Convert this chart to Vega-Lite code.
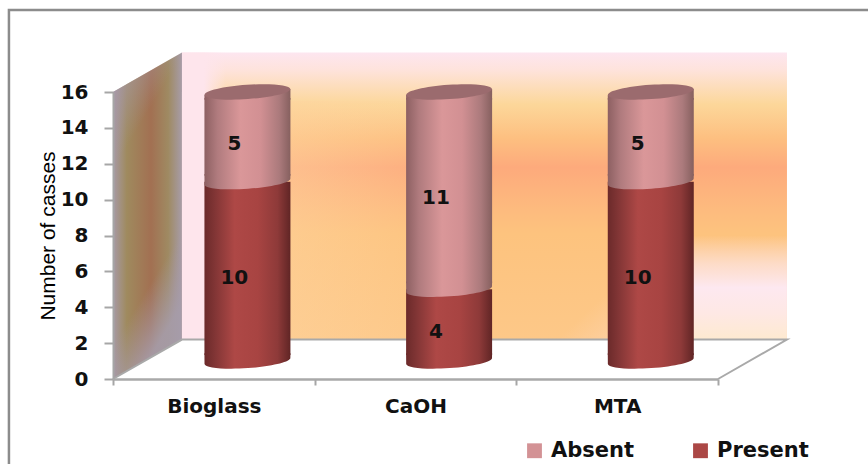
{
  "$schema": "https://vega.github.io/schema/vega-lite/v6.json",
  "width": 605,
  "height": 287,
  "autosize": {"type": "none"},
  "padding": {"left": 113, "top": 92, "right": 150, "bottom": 85},
  "background": "white",
  "config": {"view": {"stroke": null}, "font": "DejaVu Sans", "axisY": {"tickCount": 8, "labelOverlap": false}},
  "datasets": {
    "cases": [
      {"group": "Bioglass", "status": "Present", "cases": 10},
      {"group": "Bioglass", "status": "Absent", "cases": 5},
      {"group": "CaOH", "status": "Present", "cases": 4},
      {"group": "CaOH", "status": "Absent", "cases": 11},
      {"group": "MTA", "status": "Present", "cases": 10},
      {"group": "MTA", "status": "Absent", "cases": 5}
    ],
    "sideWall": [
      {"depth": 0, "low": 0, "high": 16},
      {"depth": 0.342, "low": 2.2, "high": 18.2}
    ],
    "backWall": [{"a": 0.342, "b": 3.342, "low": 2.2, "high": 18.2}],
    "floorEdge": [
      {"n": 1, "px": 0, "py": 0},
      {"n": 2, "px": 0.342, "py": 2.2},
      {"n": 3, "px": 3.342, "py": 2.2},
      {"n": 4, "px": 3, "py": 0}
    ],
    "frame": [
      {"n": 1, "px": -0.516, "py": -6},
      {"n": 2, "px": -0.516, "py": 20.57},
      {"n": 3, "px": 3.9, "py": 20.57}
    ]
  },
  "resolve": {"scale": {"x": "independent"}, "axis": {"x": "independent"}},
  "layer": [
    {
      "layer": [
        {
          "data": {"name": "frame"},
          "mark": {"type": "line", "color": "#8c8c8c", "strokeWidth": 2.5, "strokeJoin": "miter"},
          "encoding": {
            "x": {"field": "px", "type": "quantitative", "scale": {"domain": [0, 3]}, "axis": null},
            "y": {
              "field": "py", "type": "quantitative",
              "scale": {"domain": [0, 16]},
              "axis": {
                "grid": false,
                "zindex": 1,
                "title": "Number of  casses",
                "titleFont": "Liberation Sans",
                "titleFontSize": 21,
                "titleFontWeight": "normal",
                "titleColor": "#000000",
                "titleX": -55,
                "labelFont": "DejaVu Sans",
                "labelFontSize": 20,
                "labelFontWeight": "bold",
                "labelColor": "#111111",
                "labelPadding": 16,
                "tickSize": 9,
                "tickWidth": 2,
                "tickColor": "#a6a6a6",
                "domainColor": "#a6a6a6",
                "domainWidth": 2
              }
            },
            "order": {"field": "n"}
          }
        },
        {
          "data": {"name": "sideWall"},
          "mark": {
            "type": "area",
            "color": {
              "gradient": "linear", "x1": 0, "y1": 0, "x2": 1, "y2": 0,
              "stops": [
                {"offset": 0, "color": "#a79aa6"},
                {"offset": 0.2, "color": "#9f8a5e"},
                {"offset": 0.55, "color": "#a27052"},
                {"offset": 0.8, "color": "#9f8a62"},
                {"offset": 1, "color": "#a79ca8"}
              ]
            }
          },
          "encoding": {
            "x": {"field": "depth", "type": "quantitative", "scale": {"domain": [0, 3]}, "axis": null},
            "y": {"field": "low", "type": "quantitative", "scale": {"domain": [0, 16]}},
            "y2": {"field": "high"}
          }
        },
        {
          "data": {"name": "sideWall"},
          "mark": {
            "type": "area",
            "color": {
              "gradient": "linear", "x1": 0, "y1": 0, "x2": 0.35, "y2": 1,
              "stops": [
                {"offset": 0, "color": "rgba(166,152,170,1)"},
                {"offset": 0.32, "color": "rgba(166,152,170,0)"},
                {"offset": 0.8, "color": "rgba(166,152,170,0)"},
                {"offset": 1, "color": "rgba(166,156,170,0.9)"}
              ]
            }
          },
          "encoding": {
            "x": {"field": "depth", "type": "quantitative", "scale": {"domain": [0, 3]}, "axis": null},
            "y": {"field": "low", "type": "quantitative", "scale": {"domain": [0, 16]}},
            "y2": {"field": "high"}
          }
        },
        {
          "data": {"name": "backWall"},
          "mark": {
            "type": "rect",
            "color": {
              "gradient": "linear", "x1": 0, "y1": 0, "x2": 0, "y2": 1,
              "stops": [
                {"offset": 0, "color": "#fde6f0"},
                {"offset": 0.06, "color": "#fee3dc"},
                {"offset": 0.18, "color": "#fcd79a"},
                {"offset": 0.3, "color": "#fdbf80"},
                {"offset": 0.4, "color": "#fdaa7c"},
                {"offset": 0.55, "color": "#fdbb7e"},
                {"offset": 0.63, "color": "#fdc37e"},
                {"offset": 1, "color": "#fdc888"}
              ]
            }
          },
          "encoding": {
            "x": {"field": "a", "type": "quantitative", "scale": {"domain": [0, 3]}, "axis": null},
            "x2": {"field": "b"},
            "y": {"field": "low", "type": "quantitative", "scale": {"domain": [0, 16]}},
            "y2": {"field": "high"}
          }
        },
        {
          "data": {"values": [{"a": 0.342, "b": 1.7, "low": 2.2, "high": 15.5}]},
          "mark": {
            "type": "rect",
            "color": {
              "gradient": "linear", "x1": 0, "y1": 0, "x2": 1, "y2": 0,
              "stops": [
                {"offset": 0, "color": "rgba(254,212,160,0.8)"},
                {"offset": 1, "color": "rgba(254,212,160,0)"}
              ]
            }
          },
          "encoding": {
            "x": {"field": "a", "type": "quantitative", "scale": {"domain": [0, 3]}, "axis": null},
            "x2": {"field": "b"},
            "y": {"field": "low", "type": "quantitative", "scale": {"domain": [0, 16]}},
            "y2": {"field": "high"}
          }
        },
        {
          "data": {"values": [{"a": 0.342, "b": 0.56, "low": 2.2, "high": 18.2}]},
          "mark": {
            "type": "rect",
            "color": {
              "gradient": "linear", "x1": 0, "y1": 0, "x2": 1, "y2": 0,
              "stops": [
                {"offset": 0, "color": "rgba(254,229,236,1)"},
                {"offset": 0.5, "color": "rgba(254,229,236,1)"},
                {"offset": 1, "color": "rgba(254,229,236,0)"}
              ]
            }
          },
          "encoding": {
            "x": {"field": "a", "type": "quantitative", "scale": {"domain": [0, 3]}, "axis": null},
            "x2": {"field": "b"},
            "y": {"field": "low", "type": "quantitative", "scale": {"domain": [0, 16]}},
            "y2": {"field": "high"}
          }
        },
        {
          "data": {"values": [{"a": 2.66, "b": 3.342, "low": 2.2, "high": 8}]},
          "mark": {
            "type": "rect",
            "color": {
              "gradient": "linear", "x1": 0, "y1": 0, "x2": 0, "y2": 1,
              "stops": [
                {"offset": 0, "color": "rgba(253,232,240,0)"},
                {"offset": 0.28, "color": "rgba(253,228,225,0.75)"},
                {"offset": 0.5, "color": "rgba(253,232,240,1)"},
                {"offset": 0.75, "color": "rgba(254,232,228,1)"},
                {"offset": 1, "color": "rgba(254,234,208,1)"}
              ]
            }
          },
          "encoding": {
            "x": {"field": "a", "type": "quantitative", "scale": {"domain": [0, 3]}, "axis": null},
            "x2": {"field": "b"},
            "y": {"field": "low", "type": "quantitative", "scale": {"domain": [0, 16]}},
            "y2": {"field": "high"}
          }
        },
        {
          "data": {"values": [{"a": 2.2, "b": 2.66, "low": 2.2, "high": 7}]},
          "mark": {
            "type": "rect",
            "color": {
              "gradient": "linear", "x1": 0, "y1": 0, "x2": 1, "y2": 1,
              "stops": [
                {"offset": 0.5, "color": "rgba(253,225,220,0)"},
                {"offset": 1, "color": "rgba(253,225,220,0.45)"}
              ]
            }
          },
          "encoding": {
            "x": {"field": "a", "type": "quantitative", "scale": {"domain": [0, 3]}, "axis": null},
            "x2": {"field": "b"},
            "y": {"field": "low", "type": "quantitative", "scale": {"domain": [0, 16]}},
            "y2": {"field": "high"}
          }
        },
        {
          "data": {"name": "floorEdge"},
          "mark": {"type": "line", "color": "#a9a9a9", "strokeWidth": 2, "strokeJoin": "miter"},
          "encoding": {
            "x": {"field": "px", "type": "quantitative", "scale": {"domain": [0, 3]}, "axis": null},
            "y": {"field": "py", "type": "quantitative", "scale": {"domain": [0, 16]}},
            "order": {"field": "n"}
          }
        }
      ]
    },
    {
      "data": {"name": "cases"},
      "transform": [
        {"stack": "cases", "groupby": ["group"], "sort": [{"field": "status", "order": "descending"}], "as": ["base", "top"]}
      ],
      "encoding": {
        "x": {
          "field": "group", "type": "nominal",
          "scale": {"type": "band", "domain": ["Bioglass", "CaOH", "MTA"], "paddingInner": 0, "paddingOuter": 0},
          "axis": {
            "title": null,
            "tickBand": "extent",
            "labelAngle": 0,
            "labelFont": "DejaVu Sans",
            "labelFontSize": 20,
            "labelFontWeight": "bold",
            "labelColor": "#111111",
            "labelPadding": 11,
            "tickSize": 6,
            "tickWidth": 2,
            "tickColor": "#a6a6a6",
            "domainColor": "#a9a9a9",
            "domainWidth": 2.5
          }
        }
      },
      "layer": [
        {
          "mark": {"type": "bar", "opacity": 0, "width": 1},
          "encoding": {
            "y": {"field": "top", "type": "quantitative", "scale": {"domain": [0, 16]}},
            "color": {
              "field": "status", "type": "nominal",
              "scale": {"domain": ["Absent", "Present"], "range": ["#d39295", "#ab4745"]},
              "legend": {
                "orient": "none",
                "legendX": 411,
                "legendY": 348,
                "direction": "horizontal",
                "title": null,
                "symbolType": "square",
                "symbolSize": 220,
                "symbolOpacity": 1,
                "symbolStrokeWidth": 0,
                "labelFont": "DejaVu Sans",
                "labelFontSize": 21,
                "labelFontWeight": "bold",
                "labelColor": "#111111",
                "labelOffset": 6,
                "columnPadding": 55
              }
            }
          }
        },
        {
          "transform": [{"filter": "datum.status === 'Present'"}],
          "mark": {
            "type": "bar", "width": 86, "xOffset": 33.6, "yOffset": -24, "y2Offset": -18,
            "color": {
              "gradient": "linear", "x1": 0, "y1": 0, "x2": 1, "y2": 0,
              "stops": [
                {"offset": 0, "color": "#6b2a2a"},
                {"offset": 0.12, "color": "#813535"},
                {"offset": 0.35, "color": "#ae4846"},
                {"offset": 0.62, "color": "#a84442"},
                {"offset": 0.85, "color": "#8e3a39"},
                {"offset": 1, "color": "#602525"}
              ]
            }
          },
          "encoding": {
            "y": {"field": "base", "type": "quantitative", "scale": {"domain": [0, 16]}},
            "y2": {"field": "top"}
          }
        },
        {
          "transform": [{"filter": "datum.status === 'Present'"}],
          "mark": {
            "type": "point", "filled": true, "opacity": 1, "size": 7396, "xOffset": 33.6, "yOffset": -18,
            "shape": "M-1,-0.18 L1,-0.18 L0.998,-0.07 A1,0.166 -4 1 1 -0.998,0.07 Z",
            "color": {
              "gradient": "linear", "x1": 0, "y1": 0, "x2": 1, "y2": 0,
              "stops": [
                {"offset": 0, "color": "#6b2a2a"},
                {"offset": 0.12, "color": "#813535"},
                {"offset": 0.35, "color": "#ae4846"},
                {"offset": 0.62, "color": "#a84442"},
                {"offset": 0.85, "color": "#8e3a39"},
                {"offset": 1, "color": "#602525"}
              ]
            }
          },
          "encoding": {
            "y": {"field": "base", "type": "quantitative", "scale": {"domain": [0, 16]}}
          }
        },
        {
          "transform": [{"filter": "datum.status === 'Absent'"}],
          "mark": {
            "type": "bar", "width": 86, "xOffset": 33.6, "yOffset": -24, "y2Offset": -12,
            "color": {
              "gradient": "linear", "x1": 0, "y1": 0, "x2": 1, "y2": 0,
              "stops": [
                {"offset": 0, "color": "#8d6062"},
                {"offset": 0.15, "color": "#b07b7e"},
                {"offset": 0.42, "color": "#da9799"},
                {"offset": 0.65, "color": "#d29093"},
                {"offset": 0.87, "color": "#ab7a7c"},
                {"offset": 1, "color": "#86605f"}
              ]
            }
          },
          "encoding": {
            "y": {"field": "base", "type": "quantitative", "scale": {"domain": [0, 16]}},
            "y2": {"field": "top"}
          }
        },
        {
          "transform": [{"filter": "datum.status === 'Absent'"}],
          "mark": {
            "type": "point", "filled": true, "opacity": 1, "size": 7396, "xOffset": 33.6, "yOffset": -18,
            "shape": "M-1,-0.18 L1,-0.18 L0.998,-0.07 A1,0.166 -4 1 1 -0.998,0.07 Z",
            "color": {
              "gradient": "linear", "x1": 0, "y1": 0, "x2": 1, "y2": 0,
              "stops": [
                {"offset": 0, "color": "#8d6062"},
                {"offset": 0.15, "color": "#b07b7e"},
                {"offset": 0.42, "color": "#da9799"},
                {"offset": 0.65, "color": "#d29093"},
                {"offset": 0.87, "color": "#ab7a7c"},
                {"offset": 1, "color": "#86605f"}
              ]
            }
          },
          "encoding": {
            "y": {"field": "base", "type": "quantitative", "scale": {"domain": [0, 16]}}
          }
        },
        {
          "transform": [{"filter": "datum.status === 'Absent'"}],
          "mark": {
            "type": "point", "filled": true, "opacity": 1, "size": 7396, "xOffset": 33.6, "yOffset": -18,
            "shape": "M-1,0.07 L1,-0.07 L1,0.18 L-1,0.18 Z",
            "color": {
              "gradient": "linear", "x1": 0, "y1": 0, "x2": 1, "y2": 0,
              "stops": [
                {"offset": 0, "color": "#8d6062"},
                {"offset": 0.15, "color": "#b07b7e"},
                {"offset": 0.42, "color": "#da9799"},
                {"offset": 0.65, "color": "#d29093"},
                {"offset": 0.87, "color": "#ab7a7c"},
                {"offset": 1, "color": "#86605f"}
              ]
            }
          },
          "encoding": {
            "y": {"field": "top", "type": "quantitative", "scale": {"domain": [0, 16]}}
          }
        },
        {
          "transform": [{"filter": "datum.status === 'Absent'"}],
          "mark": {
            "type": "point", "filled": true, "opacity": 1, "size": 7396, "xOffset": 33.6, "yOffset": -18,
            "shape": "M-0.998,0.07 A1,0.166 -4 1 1 0.998,-0.07 A1,0.166 -4 1 1 -0.998,0.07 Z",
            "color": "#9b6b6e"
          },
          "encoding": {
            "y": {"field": "top", "type": "quantitative", "scale": {"domain": [0, 16]}}
          }
        },
        {
          "transform": [
            {"fold": ["base", "top"], "as": ["edge", "level"]}
          ],
          "mark": {"type": "text", "font": "DejaVu Sans", "fontWeight": "bold", "fontSize": 20, "color": "#111111", "xOffset": 20.5, "yOffset": -11},
          "encoding": {
            "y": {"aggregate": "mean", "field": "level", "type": "quantitative", "scale": {"domain": [0, 16]}},
            "detail": {"field": "status"},
            "text": {"aggregate": "max", "field": "cases", "type": "quantitative"}
          }
        }
      ]
    }
  ]
}
